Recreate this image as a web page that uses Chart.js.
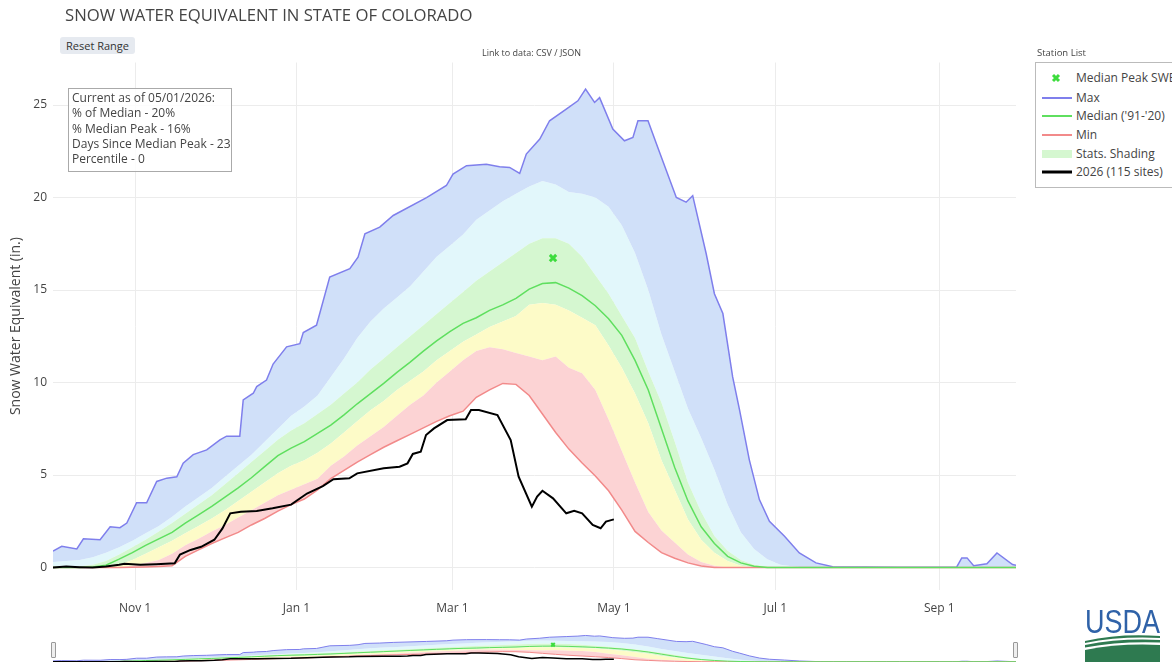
<!DOCTYPE html>
<html>
<head>
<meta charset="utf-8">
<script src="https://cdn.jsdelivr.net/npm/chart.js@4.4.1/dist/chart.umd.min.js"></script>
<style>
html,body{margin:0;padding:0;background:#fff;width:1172px;height:662px;overflow:hidden;font-family:"Open Sans",sans-serif;color:#444;}
canvas{position:absolute;left:0;}
#main{top:0;}
#slider{top:628px;}
.abs{position:absolute;white-space:nowrap;}
#title{left:65px;top:4px;font-size:16.7px;line-height:22px;color:#444;}
#reset{left:60px;top:37px;width:75px;height:17px;line-height:17px;font-size:11px;text-align:center;background:#e6eaf0;border-radius:3px;color:#333;}
#link{left:482px;top:47px;font-size:9px;line-height:12px;color:#444;}
#station{left:1037px;top:47px;font-size:9.5px;line-height:12px;color:#444;}
#info{left:68px;top:88px;width:159px;height:81px;border:1px solid #aaa;background:rgba(255,255,255,0.85);font-size:12px;line-height:15.3px;padding:1px 0 0 3px;box-sizing:content-box;color:#444;}
#legend{left:1035px;top:62px;width:170px;height:124px;border:1px solid #bbb;background:#fff;}
.li{position:absolute;left:0;height:18px;font-size:12px;line-height:18px;color:#444;}
.li svg{position:absolute;left:6px;top:0;}
.li span{position:absolute;left:40px;top:0;}
.handle{position:absolute;top:642px;width:3px;height:14px;border:1px solid #999;background:#eee;border-radius:1px;}
</style>
</head>
<body>
<canvas id="main" width="1172" height="630"></canvas>
<canvas id="slider" width="1172" height="44"></canvas>
<div id="title" class="abs">SNOW WATER EQUIVALENT IN STATE OF COLORADO</div>
<div id="reset" class="abs">Reset Range</div>
<div id="link" class="abs">Link to data: CSV / JSON</div>
<div id="station" class="abs">Station List</div>
<div id="info" class="abs"></div>
<div id="legend" class="abs"></div>
<div class="handle" style="left:51px"></div>
<div class="handle" style="left:1013px"></div>
<svg class="abs" style="left:1080px;top:600px" width="92" height="62" viewBox="1080 600 92 62">
  <text x="1085" y="633" font-family="Liberation Sans Narrow, Liberation Sans, sans-serif" font-size="34" fill="#2f62a8" textLength="75" lengthAdjust="spacingAndGlyphs">USDA</text>
  <path d="M1085,641 Q1120,633 1160,636 L1160,638 Q1120,636 1085,643 Z" fill="#2e7a50"/>
  <path d="M1085,645 Q1120,638 1160,640 L1160,642.5 Q1120,641 1085,647.5 Z" fill="#2e7a50"/>
  <path d="M1085,650 Q1120,643 1160,645 L1160,662 L1085,662 Z" fill="#2e7a50"/>
</svg>
<script>
// ---- data (day index counted from Oct 1) ----
const days = [0,5,10,15,20,25,30,35,40,45,50,55,60,65,70,75,80,85,90,95,100,105,110,115,120,125,130,135,140,145,150,155,160,165,170,175,180,185,190,195,200,205,210,215,220,225,230,235,240,245,250,255,260,265,270,275,280,285,290,295,300,305,310,315,320,325,330,335,340,345,350,355,360,364];
const maxDays = [0,3.3,9,11.5,17.8,21.6,25.3,27.9,31.6,35.4,39.2,43,46.8,49.2,53,58.1,63.1,65.6,70.6,71.9,75.7,77,80.7,83.2,88.3,93.3,94.6,99.6,104.6,112.2,115.3,117.9,123.5,128.6,141.2,148.7,151.2,156.3,163.8,168.8,172.6,176.4,178.9,184,187.7,194,198.4,201.3,204.7,206.6,211.6,216,219.2,221.1,224.9,228.6,235.6,239.3,241.8,246.9,250,253.2,256.9,259.5,263.2,267,270.8,276.5,282.1,288.4,294.7,320,341.6,343.5,345.5,348,353,356.8,362.7,364];
const maxSwe = [0.88,1.15,1.0,1.55,1.5,2.2,2.15,2.4,3.5,3.5,4.65,4.83,4.9,5.64,6.1,6.36,6.9,7.1,7.1,9.06,9.42,9.78,10.13,11.0,11.93,12.1,12.7,13.1,15.7,16.15,16.78,18.04,18.4,19.03,20.0,20.65,21.27,21.72,21.8,21.67,21.63,21.3,22.35,23.16,24.15,24.78,25.23,25.86,25.14,25.4,23.7,23.07,23.25,24.15,24.15,22.71,20.0,19.75,20.1,16.96,14.8,13.73,10.3,8.52,5.82,3.67,2.5,1.69,0.79,0.25,0.04,0.02,0.03,0.52,0.52,0.1,0.2,0.79,0.16,0.12];
const p90Swe = [0.3,0.35,0.4,0.55,0.8,1.1,1.45,1.85,2.25,2.75,3.3,3.8,4.3,4.9,5.5,6.1,6.8,7.5,8.2,8.7,9.3,10.3,11.3,12.4,13.3,14.0,14.6,15.2,16.0,16.8,17.4,18.0,18.8,19.3,19.8,20.2,20.6,20.9,20.7,20.3,20.2,20.0,19.5,18.5,17.0,15.0,12.6,10.6,8.6,7.0,5.3,3.4,1.9,1.0,0.45,0.15,0.05,0,0,0,0,0,0,0,0,0,0,0,0,0,0,0,0,0];
const p70Swe = [0.05,0.05,0.05,0.15,0.35,0.7,1.1,1.5,1.95,2.4,2.9,3.4,3.9,4.5,5.1,5.7,6.3,6.9,7.4,7.8,8.3,8.8,9.4,10.0,10.7,11.3,11.9,12.5,13.1,13.7,14.3,14.9,15.5,16.0,16.5,17.0,17.5,17.8,17.8,17.5,16.8,15.8,14.8,13.6,12.4,10.6,8.9,6.8,4.6,3.0,1.7,0.9,0.4,0.15,0.05,0,0,0,0,0,0,0,0,0,0,0,0,0,0,0,0,0,0,0];
const medianSwe = [0,0,0,0.03,0.12,0.45,0.8,1.2,1.55,1.9,2.4,2.85,3.3,3.8,4.3,4.85,5.45,6.05,6.45,6.8,7.25,7.7,8.25,8.85,9.4,9.95,10.55,11.1,11.7,12.25,12.75,13.2,13.5,13.9,14.2,14.55,15.05,15.35,15.4,15.1,14.7,14.15,13.45,12.55,11.2,9.6,7.5,5.4,3.6,2.2,1.3,0.6,0.25,0.07,0,0,0,0,0,0,0,0,0,0,0,0,0,0,0,0,0,0,0,0];
const p30Swe = [0,0,0,0,0,0.15,0.4,0.75,1.1,1.45,1.85,2.25,2.65,3.1,3.6,4.1,4.6,5.1,5.5,5.8,6.2,6.7,7.3,7.9,8.5,9.0,9.6,10.1,10.6,11.2,11.7,12.2,12.6,13.0,13.3,13.6,14.2,14.3,14.2,13.9,13.5,13.1,12.0,10.8,9.4,7.8,5.8,4.2,2.6,1.5,0.8,0.35,0.1,0,0,0,0,0,0,0,0,0,0,0,0,0,0,0,0,0,0,0,0,0];
const p10Swe = [0,0,0,0,0,0,0.1,0.25,0.4,0.75,1.2,1.55,1.95,2.3,2.7,3.1,3.5,3.9,4.2,4.5,4.8,5.5,6.0,6.6,7.1,7.6,8.2,8.8,9.3,10.0,10.6,11.2,11.7,11.9,11.8,11.6,11.4,11.2,11.4,10.8,10.5,9.6,8.0,6.3,4.6,3.0,2.0,1.35,0.7,0.3,0.1,0,0,0,0,0,0,0,0,0,0,0,0,0,0,0,0,0,0,0,0,0,0,0];
const minSwe = [0,0,0,0,0,0,0.02,0.03,0.05,0.1,0.6,0.95,1.3,1.6,1.9,2.3,2.65,3.05,3.4,3.7,4.2,4.8,5.25,5.7,6.1,6.5,6.85,7.2,7.55,7.9,8.2,8.45,9.2,9.6,9.95,9.9,9.3,8.3,7.3,6.4,5.65,4.95,4.15,3.1,1.95,1.35,0.8,0.5,0.25,0.08,0,0,0,0,0,0,0,0,0,0,0,0,0,0,0,0,0,0,0,0,0,0,0,0];
const wy2026Days = [0,5,10,15,20,25,27,33,39,46,48,52,56,61,64,67,71,77,83,90,96,102,106,112,115,125,131,134,136,139,141,144,149,156,158,161,168,173,176,181,183,185,189,194,197,200,204,207,209,212];
const wy2026Swe = [0,0.05,0.02,0,0.05,0.15,0.2,0.15,0.18,0.23,0.7,0.95,1.12,1.5,2.1,2.93,3.02,3.05,3.2,3.4,4.0,4.4,4.77,4.82,5.09,5.36,5.45,5.63,6.14,6.26,7.16,7.52,7.97,8.01,8.51,8.51,8.24,6.89,4.91,3.29,3.83,4.15,3.74,2.93,3.07,2.93,2.3,2.12,2.48,2.6];
const peakDay = 189, peakSwe = 16.73;
const xTickDays = [31,92,151,212,273,335];
const xTickLabels = ['Nov 1','Jan 1','Mar 1','May 1','Jul 1','Sep 1'];
const yTickValues = [0,5,10,15,20,25];
const infoLines = ['Current as of 05/01/2026:','% of Median - 20%','% Median Peak - 16%','Days Since Median Peak - 23','Percentile - 0'];
const legendLabels = ['Median Peak SWE','Max',"Median ('91-'20)",'Min','Stats. Shading','2026 (115 sites)'];

const C = {
  blue:'#d0e0f9', cyan:'#e2f7fb', green:'#d5f7d0', yellow:'#fdfbc8', pink:'#fcd3d4',
  maxLine:'#7f7fec', medLine:'#5fdf5f', minLine:'#f28a8a', peak:'#3ddc3d', now:'#000000'
};

function pts(xs, vals){ return vals.map((v,i)=>({x:xs[i], y:v})); }
function band(vals, color, target){
  return {data:pts(days, vals), borderWidth:0, borderColor:'rgba(0,0,0,0)', backgroundColor:color, fill:target, order:9, pointRadius:0};
}
function buildDatasets(thin){
  const lw = thin ? 1 : 1.5;
  return [
    band(p10Swe, C.pink, 1),                                                   // 0
    {data:pts(days,minSwe), borderColor:C.minLine, borderWidth:lw, fill:false, order:4, pointRadius:0}, // 1
    band(p30Swe, C.yellow, 0),                                                 // 2
    band(p70Swe, C.green, 2),                                                  // 3
    band(p90Swe, C.cyan, 3),                                                   // 4
    {data:pts(maxDays,maxSwe), borderColor:C.maxLine, borderWidth:lw, backgroundColor:C.blue, fill:4, order:5, pointRadius:0}, // 5
    {data:pts(days,medianSwe), borderColor:C.medLine, borderWidth:lw, fill:false, order:3, pointRadius:0}, // 6
    {data:pts(wy2026Days,wy2026Swe), borderColor:C.now, borderWidth:thin?1.5:2, fill:false, order:1, pointRadius:0}, // 7
    {data:[{x:peakDay,y:peakSwe}], showLine:false, pointStyle:'crossRot', pointRadius:thin?2.5:4.5, pointBorderWidth:thin?2:3, pointBorderColor:C.peak, borderColor:C.peak, backgroundColor:C.peak, order:0} // 8
  ];
}

const FONT = {family:'"Open Sans", sans-serif', size:12};
new Chart(document.getElementById('main'), {
  type:'line',
  data:{datasets:buildDatasets(false)},
  options:{
    responsive:false, animation:false, events:[],
    layout:{padding:{left:0, right:156, top:62.5, bottom:0}},
    elements:{line:{tension:0}, point:{radius:0}},
    plugins:{legend:{display:false}, tooltip:{enabled:false}, filler:{propagate:false, drawTime:'beforeDatasetsDraw'}},
    scales:{
      x:{type:'linear', min:0, max:364,
         afterBuildTicks:s=>{ s.ticks = xTickDays.map(v=>({value:v})); },
         afterFit:s=>{ s.height = 630-589.7; },
         ticks:{autoSkip:false, maxRotation:0, padding:12, color:'#444', font:FONT, callback:(v,i)=>xTickLabels[i]},
         grid:{color:'#ececec', lineWidth:1, drawTicks:false}, border:{display:false}},
      y:{type:'linear', min:-1.2, max:27.3,
         afterBuildTicks:s=>{ s.ticks = yTickValues.map(v=>({value:v})); },
         afterFit:s=>{ s.width = 53; },
         ticks:{padding:6, color:'#444', font:FONT},
         grid:{color:'#ececec', lineWidth:1, drawTicks:false}, border:{display:false},
         title:{display:true, text:'Snow Water Equivalent (in.)', color:'#444', font:{family:'"Open Sans", sans-serif', size:14}, padding:{top:8,bottom:0}}}
    }
  }
});

new Chart(document.getElementById('slider'), {
  type:'line',
  data:{datasets:buildDatasets(true)},
  options:{
    responsive:false, animation:false, events:[],
    layout:{padding:{left:53, right:156, top:4, bottom:9}},
    elements:{line:{tension:0}, point:{radius:0}},
    plugins:{legend:{display:false}, tooltip:{enabled:false}, filler:{propagate:false, drawTime:'beforeDatasetsDraw'}},
    scales:{ x:{type:'linear', display:false, min:0, max:364}, y:{type:'linear', display:false, min:-1.2, max:27.3} }
  }
});

// info box
document.getElementById('info').innerHTML = infoLines.map(t=>'<div>'+t.replace(/</g,'&lt;')+'</div>').join('');

// legend
const legendSwatches = [
  '<svg width="30" height="18"><path d="M11,6 L17,12 M17,6 L11,12" stroke="'+C.peak+'" stroke-width="3"/></svg>',
  '<svg width="30" height="18"><line x1="0" y1="9" x2="30" y2="9" stroke="'+C.maxLine+'" stroke-width="2"/></svg>',
  '<svg width="30" height="18"><line x1="0" y1="9" x2="30" y2="9" stroke="'+C.medLine+'" stroke-width="2"/></svg>',
  '<svg width="30" height="18"><line x1="0" y1="9" x2="30" y2="9" stroke="'+C.minLine+'" stroke-width="2"/></svg>',
  '<svg width="30" height="18"><rect x="0" y="5" width="30" height="8" fill="'+C.green+'"/></svg>',
  '<svg width="30" height="18"><line x1="0" y1="9" x2="30" y2="9" stroke="#000" stroke-width="3"/></svg>'
];
const legendTops = [6,26,44,63,82,100];
document.getElementById('legend').innerHTML = legendLabels.map((t,i)=>
  '<div class="li" style="top:'+legendTops[i]+'px">'+legendSwatches[i]+'<span>'+t+'</span></div>').join('');
</script>
</body>
</html>
